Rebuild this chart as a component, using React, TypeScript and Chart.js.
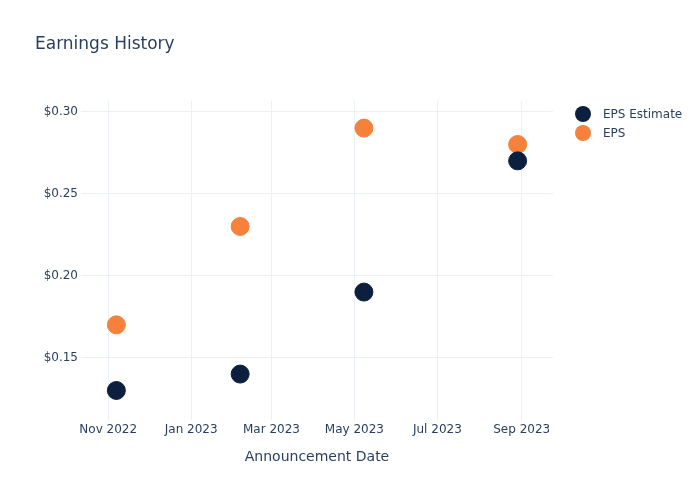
import React, { useEffect, useRef } from "react";
import { Chart, registerables } from "chart.js";

Chart.register(...registerables);

// ---- data ----
const announcementDates = ["2022-11-07", "2023-02-06", "2023-05-08", "2023-08-29"];
const epsEstimate = [0.13, 0.14, 0.19, 0.27];
const epsActual = [0.17, 0.23, 0.29, 0.28];

const xTickDates = ["2022-11-01", "2023-01-01", "2023-03-01", "2023-05-01", "2023-07-01", "2023-09-01"];
const xTickLabels = ["Nov 2022", "Jan 2023", "Mar 2023", "May 2023", "Jul 2023", "Sep 2023"];
const yTickValues = [0.15, 0.2, 0.25, 0.3];

const xRange = ["2022-10-12", "2023-09-24"];
const yRange = [0.112, 0.3065];

const titleText = "Earnings History";
const xAxisTitle = "Announcement Date";
const seriesNames = ["EPS Estimate", "EPS"];
const seriesColors = ["#0c1f3f", "#f5813a"];

const FONT = "'DejaVu Sans', Verdana, sans-serif";
const TEXT_COLOR = "#2a3f5f";
const GRID_COLOR = "#ebf0f8";

const ts = (d: string) => {
  const [y, m, dd] = d.split("-").map(Number);
  return Date.UTC(y, m - 1, dd);
};

const overlayPlugin = {
  id: "overlay",
  afterDraw(chart: any) {
    const ctx = chart.ctx;
    ctx.save();
    ctx.fillStyle = TEXT_COLOR;
    ctx.font = `17px ${FONT}`;
    ctx.textAlign = "left";
    ctx.textBaseline = "middle";
    ctx.fillText(titleText, 35, 45);

    ctx.font = `12px ${FONT}`;
    seriesNames.forEach((name, i) => {
      const y = 114 + i * 19;
      ctx.beginPath();
      ctx.arc(583, y, 8, 0, Math.PI * 2);
      ctx.fillStyle = seriesColors[i];
      ctx.fill();
      ctx.fillStyle = TEXT_COLOR;
      ctx.fillText(name, 603, y + 1);
    });
    ctx.restore();
  },
};

export default function App() {
  const canvasRef = useRef<HTMLCanvasElement | null>(null);

  useEffect(() => {
    if (!canvasRef.current) return;
    const chart = new Chart(canvasRef.current, {
      type: "scatter",
      data: {
        datasets: [
          {
            label: seriesNames[0],
            data: announcementDates.map((d, i) => ({ x: ts(d), y: epsEstimate[i] })),
            backgroundColor: seriesColors[0],
            borderColor: seriesColors[0],
            pointRadius: 9,
            borderWidth: 1,
          },
          {
            label: seriesNames[1],
            data: announcementDates.map((d, i) => ({ x: ts(d), y: epsActual[i] })),
            backgroundColor: seriesColors[1],
            borderColor: seriesColors[1],
            pointRadius: 9,
            borderWidth: 1,
          },
        ],
      },
      options: {
        animation: false,
        responsive: false,
        layout: { padding: { left: 0, top: 101, right: 147, bottom: 0 } },
        plugins: {
          legend: { display: false },
          tooltip: { enabled: false },
          title: { display: false },
        },
        scales: {
          x: {
            type: "linear",
            min: ts(xRange[0]),
            max: ts(xRange[1]),
            afterBuildTicks: (scale: any) => {
              scale.ticks = xTickDates.map((d) => ({ value: ts(d) }));
            },
            afterFit: (scale: any) => {
              scale.height = 80;
            },
            ticks: {
              autoSkip: false,
              maxRotation: 0,
              padding: 3,
              color: TEXT_COLOR,
              font: { family: FONT, size: 12 },
              callback: (v: any) => {
                const idx = xTickDates.findIndex((d) => ts(d) === v);
                return idx >= 0 ? xTickLabels[idx] : "";
              },
            },
            grid: { color: GRID_COLOR, drawTicks: false, lineWidth: 1 },
            border: { display: false },
            title: {
              display: true,
              text: xAxisTitle,
              color: TEXT_COLOR,
              font: { family: FONT, size: 14 },
              padding: { top: 0, bottom: 34 },
            },
          },
          y: {
            type: "linear",
            min: yRange[0],
            max: yRange[1],
            afterBuildTicks: (scale: any) => {
              scale.ticks = yTickValues.map((v) => ({ value: v }));
            },
            afterFit: (scale: any) => {
              scale.width = 81;
            },
            ticks: {
              padding: 3,
              color: TEXT_COLOR,
              font: { family: FONT, size: 12 },
              callback: (v: any) => "$" + Number(v).toFixed(2),
            },
            grid: { color: GRID_COLOR, drawTicks: false, lineWidth: 1 },
            border: { display: false },
          },
        },
      },
      plugins: [overlayPlugin],
    } as any);
    return () => chart.destroy();
  }, []);

  return (
    <div style={{ position: "absolute", left: 0, top: 0, width: 700, height: 500, background: "#fff" }}>
      <canvas ref={canvasRef} width={700} height={500} />
    </div>
  );
}
